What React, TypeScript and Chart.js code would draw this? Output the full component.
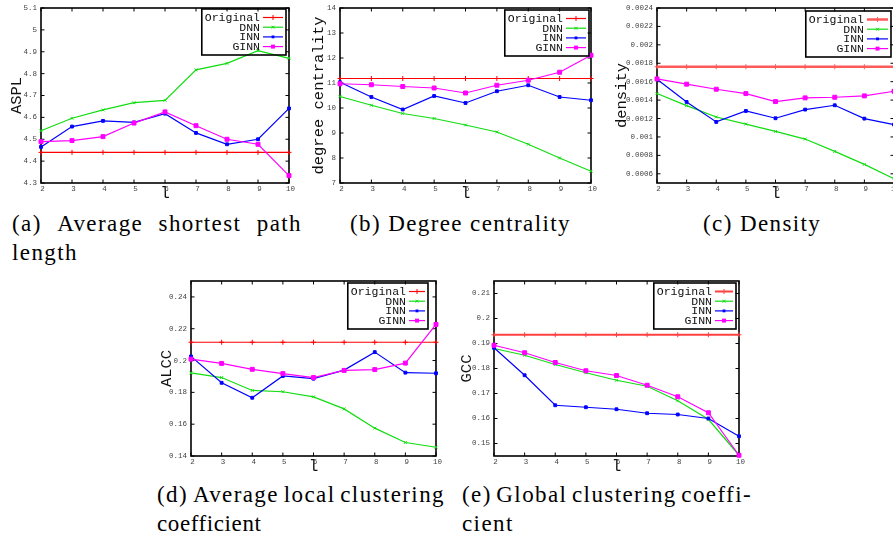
import React, { useEffect, useRef } from 'react';
import { Chart, registerables } from 'chart.js';

Chart.register(...registerables);

// ---------- data ----------
const L_VALUES = [2, 3, 4, 5, 6, 7, 8, 9, 10];
const SERIES_NAMES = ['Original', 'DNN', 'INN', 'GINN'];

// (a) Average shortest path length
const ASPL_ORIGINAL = [4.44, 4.44, 4.44, 4.44, 4.44, 4.44, 4.44, 4.44, 4.44];
const ASPL_DNN = [4.539, 4.596, 4.634, 4.667, 4.678, 4.817, 4.847, 4.905, 4.87];
const ASPL_INN = [4.465, 4.558, 4.584, 4.577, 4.617, 4.529, 4.477, 4.5, 4.641];
const ASPL_GINN = [4.489, 4.494, 4.512, 4.574, 4.625, 4.562, 4.5, 4.477, 4.334];
const ASPL_TICKS = [4.3, 4.4, 4.5, 4.6, 4.7, 4.8, 4.9, 5.0, 5.1];

// (b) Degree centrality
const DC_ORIGINAL = [11.18, 11.18, 11.18, 11.18, 11.18, 11.18, 11.18, 11.18, 11.18];
const DC_DNN = [10.46, 10.11, 9.78, 9.58, 9.32, 9.04, 8.55, 8.0, 7.47];
const DC_INN = [11.03, 10.44, 9.94, 10.48, 10.2, 10.67, 10.91, 10.44, 10.31];
const DC_GINN = [10.97, 10.93, 10.86, 10.8, 10.6, 10.91, 11.11, 11.43, 12.11];
const DC_TICKS = [7, 8, 9, 10, 11, 12, 13, 14];

// (c) Density
const DEN_ORIGINAL = [0.001762, 0.001762, 0.001762, 0.001762, 0.001762, 0.001762, 0.001762, 0.001762, 0.001762];
const DEN_DNN = [0.001471, 0.00134, 0.001217, 0.00114, 0.00106, 0.000977, 0.000843, 0.000702, 0.000546];
const DEN_INN = [0.001627, 0.00138, 0.001163, 0.001282, 0.001203, 0.001297, 0.001344, 0.001199, 0.001134];
const DEN_GINN = [0.00163, 0.001573, 0.001518, 0.001471, 0.001384, 0.001424, 0.001431, 0.001446, 0.001496];
const DEN_TICKS = [0.0006, 0.0008, 0.001, 0.0012, 0.0014, 0.0016, 0.0018, 0.002, 0.0022, 0.0024];

// (d) Average local clustering coefficient
const ALCC_ORIGINAL = [0.2115, 0.2115, 0.2115, 0.2115, 0.2115, 0.2115, 0.2115, 0.2115, 0.2115];
const ALCC_DNN = [0.1922, 0.1893, 0.1812, 0.1804, 0.1772, 0.1696, 0.1575, 0.1485, 0.1455];
const ALCC_INN = [0.2026, 0.186, 0.1766, 0.1903, 0.1886, 0.194, 0.2053, 0.1924, 0.192];
const ALCC_GINN = [0.2009, 0.1982, 0.1945, 0.1918, 0.1893, 0.1938, 0.1943, 0.1984, 0.2227];
const ALCC_TICKS = [0.14, 0.16, 0.18, 0.2, 0.22, 0.24];

// (e) Global clustering coefficient
const GCC_ORIGINAL = [0.1935, 0.1935, 0.1935, 0.1935, 0.1935, 0.1935, 0.1935, 0.1935, 0.1935];
const GCC_DNN = [0.188, 0.1853, 0.1816, 0.1783, 0.1753, 0.1729, 0.1671, 0.1597, 0.1453];
const GCC_INN = [0.1883, 0.1773, 0.1653, 0.1645, 0.1637, 0.1621, 0.1616, 0.16, 0.1529];
const GCC_GINN = [0.1893, 0.1863, 0.1824, 0.1791, 0.1772, 0.1733, 0.1687, 0.1623, 0.1453];
const GCC_TICKS = [0.15, 0.16, 0.17, 0.18, 0.19, 0.2, 0.21];

// ---------- styles ----------
const MONO = "'Liberation Mono', 'DejaVu Sans Mono', 'Noto Sans Mono', monospace";
const SERIF = "'Liberation Serif', 'DejaVu Serif', 'Noto Serif', serif";

const SERIES_STYLE = [
  { color: '#ff0000', point: 'cross', r: 2.5 },
  { color: '#11dd11', point: 'crossRot', r: 2 },
  { color: '#0000ff', point: 'rect', r: 2 },
  { color: '#ff00ff', point: 'rect', r: 2.8 },
];

const PANELS = [
  { left: 0, top: 0, w: 300, h: 205, plot: { L: 41, R: 289, T: 8, B: 183 }, yTitle: 'ASPL', yTitleX: 16.5,
    ymin: 4.3, ymax: 5.1, yTicks: ASPL_TICKS, series: [ASPL_ORIGINAL, ASPL_DNN, ASPL_INN, ASPL_GINN],
    legend: { inset: 3, top: 1, sample: 19 }, red: { w: 1.2, c: '#ff0000' } },
  { left: 300, top: 0, w: 300, h: 205, plot: { L: 340, R: 591, T: 8, B: 183 }, yTitle: 'degree centrality', yTitleX: 319,
    ymin: 7, ymax: 14, yTicks: DC_TICKS, series: [DC_ORIGINAL, DC_DNN, DC_INN, DC_GINN],
    legend: { inset: 2, top: 2, sample: 19 }, red: { w: 1.2, c: '#ff0000' } },
  { left: 600, top: 0, w: 300, h: 205, plot: { L: 657, R: 894, T: 8, B: 183 }, yTitle: 'density', yTitleX: 622,
    ymin: 0.0005, ymax: 0.0024, yTicks: DEN_TICKS, series: [DEN_ORIGINAL, DEN_DNN, DEN_INN, DEN_GINN],
    legend: { inset: 3, top: 3, sample: 20 }, red: { w: 2.5, c: '#ff5a5a' } },
  { left: 150, top: 275, w: 300, h: 203, plot: { L: 191, R: 436, T: 281, B: 456 }, yTitle: 'ALCC', yTitleX: 167,
    ymin: 0.14, ymax: 0.25, yTicks: ALCC_TICKS, series: [ALCC_ORIGINAL, ALCC_DNN, ALCC_INN, ALCC_GINN],
    legend: { inset: 8, top: 2, sample: 15 }, red: { w: 1.2, c: '#ff0000' } },
  { left: 450, top: 275, w: 300, h: 203, plot: { L: 494, R: 739, T: 281, B: 456 }, yTitle: 'GCC', yTitleX: 467,
    ymin: 0.145, ymax: 0.215, yTicks: GCC_TICKS, series: [GCC_ORIGINAL, GCC_DNN, GCC_INN, GCC_GINN],
    legend: { inset: 3, top: 2, sample: 17 }, red: { w: 2, c: '#ff4040' } },
];

const fmt = (v: any) => String(+Number(v).toFixed(6));

function drawMarker(ctx: CanvasRenderingContext2D, style: string, x: number, y: number, r: number, color: string) {
  ctx.save();
  ctx.strokeStyle = color;
  ctx.fillStyle = color;
  ctx.lineWidth = 1;
  ctx.beginPath();
  if (style === 'cross') {
    ctx.moveTo(x - r, y); ctx.lineTo(x + r, y);
    ctx.moveTo(x, y - r); ctx.lineTo(x, y + r);
    ctx.stroke();
  } else if (style === 'crossRot') {
    const d = r * Math.SQRT1_2;
    ctx.moveTo(x - d, y - d); ctx.lineTo(x + d, y + d);
    ctx.moveTo(x - d, y + d); ctx.lineTo(x + d, y - d);
    ctx.stroke();
  } else {
    const s = r * Math.SQRT1_2;
    ctx.fillRect(x - s, y - s, 2 * s, 2 * s);
  }
  ctx.restore();
}

const framePlugin = {
  id: 'gpFrame',
  beforeDatasetsDraw(chart: any) {
    const { ctx, chartArea, scales } = chart;
    const { left, right, top, bottom } = chartArea;
    const tl = 3.5;
    ctx.save();
    ctx.strokeStyle = '#000';
    ctx.lineWidth = 1;
    ctx.beginPath();
    scales.x.ticks.forEach((t: any) => {
      const px = scales.x.getPixelForValue(t.value);
      ctx.moveTo(px, bottom); ctx.lineTo(px, bottom - tl);
      ctx.moveTo(px, top); ctx.lineTo(px, top + tl);
    });
    scales.y.ticks.forEach((t: any) => {
      const py = scales.y.getPixelForValue(t.value);
      ctx.moveTo(left, py); ctx.lineTo(left + tl, py);
      ctx.moveTo(right, py); ctx.lineTo(right - tl, py);
    });
    ctx.stroke();
    ctx.lineWidth = 1.6;
    ctx.strokeRect(left, top, right - left, bottom - top);
    ctx.restore();
  },
};

const legendPlugin = {
  id: 'gpLegend',
  afterDatasetsDraw(chart: any, _args: any, opts: any) {
    const { ctx, chartArea } = chart;
    const ds = chart.data.datasets;
    ctx.save();
    ctx.font = `11.5px ${MONO}`;
    const textW = Math.max(...ds.map((d: any) => ctx.measureText(d.label).width));
    const boxR = chartArea.right - opts.inset;
    const boxT = chartArea.top + opts.top;
    const textR = boxR - opts.sample - 7;
    const boxL = textR - textW - 3;
    const rowH = 9.7;
    const boxH = 46;
    ctx.strokeStyle = '#000';
    ctx.lineWidth = 1.6;
    ctx.strokeRect(boxL, boxT, boxR - boxL, boxH);
    ds.forEach((d: any, i: number) => {
      const y = boxT + 8.5 + i * rowH;
      ctx.fillStyle = '#111';
      ctx.textAlign = 'right';
      ctx.textBaseline = 'middle';
      ctx.fillText(d.label, textR, y + 0.5);
      const x0 = textR + 3;
      const x1 = boxR - 3;
      ctx.strokeStyle = d.borderColor;
      ctx.lineWidth = d.borderWidth;
      ctx.beginPath();
      ctx.moveTo(x0, y); ctx.lineTo(x1, y);
      ctx.stroke();
      drawMarker(ctx, d.pointStyle, (x0 + x1) / 2, y, d.pointRadius, d.borderColor);
    });
    ctx.restore();
  },
};

function buildConfig(p: any): any {
  const yAxisW = p.plot.L - p.left;
  const xAxisH = p.top + p.h - p.plot.B;
  const datasets = SERIES_NAMES.map((name, i) => {
    const st = SERIES_STYLE[i];
    const color = i === 0 ? p.red.c : st.color;
    return {
      label: name,
      data: L_VALUES.map((x, j) => ({ x, y: p.series[i][j] })),
      borderColor: color,
      backgroundColor: color,
      borderWidth: i === 0 ? p.red.w : 1.2,
      pointStyle: st.point,
      pointRadius: st.r,
      pointBorderWidth: 1,
      pointBackgroundColor: color,
      pointBorderColor: color,
      tension: 0,
      clip: false,
      order: 3 - i,
    };
  });
  return {
    type: 'line',
    data: { datasets },
    plugins: [framePlugin, legendPlugin],
    options: {
      responsive: false,
      animation: false,
      devicePixelRatio: 1,
      layout: {
        padding: { left: 0, top: p.plot.T - p.top, right: p.left + p.w - p.plot.R, bottom: 0 },
      },
      plugins: {
        legend: { display: false },
        tooltip: { enabled: false },
        gpLegend: p.legend,
      },
      scales: {
        x: {
          type: 'linear',
          position: 'bottom',
          min: 2,
          max: 10,
          grid: { display: false, drawTicks: false },
          border: { display: false },
          afterBuildTicks: (s: any) => { s.ticks = L_VALUES.map((v) => ({ value: v })); },
          afterFit: (s: any) => { s.height = xAxisH; s.paddingLeft = 0; s.paddingRight = 0; },
          ticks: {
            autoSkip: false, maxRotation: 0, padding: 2, labelOffset: 1.5,
            font: { family: MONO, size: 7.5 }, color: '#444',
            callback: fmt,
          },
          title: {
            display: true, text: 'l', color: '#111',
            font: { family: MONO, size: 16, lineHeight: 1 },
            padding: { top: 0, bottom: 3.5 },
          },
        },
        y: {
          type: 'linear',
          position: 'left',
          min: p.ymin,
          max: p.ymax,
          grid: { display: false, drawTicks: false },
          border: { display: false },
          afterBuildTicks: (s: any) => { s.ticks = p.yTicks.map((v: number) => ({ value: v })); },
          afterFit: (s: any) => { s.width = yAxisW; s.paddingTop = 0; s.paddingBottom = 0; },
          ticks: {
            autoSkip: false, padding: 4,
            font: { family: MONO, size: 7.5 }, color: '#444',
            callback: fmt,
          },
          title: {
            display: true, text: p.yTitle, color: '#111',
            font: { family: MONO, size: 15.5, lineHeight: 1 },
            padding: { top: p.yTitleX - p.left - 7.75, bottom: 0 },
          },
        },
      },
    },
  };
}

function Panel({ p }: { p: any }) {
  const ref = useRef<HTMLCanvasElement>(null);
  useEffect(() => {
    const chart = new Chart(ref.current as HTMLCanvasElement, buildConfig(p));
    return () => chart.destroy();
  }, [p]);
  return (
    <canvas
      ref={ref}
      width={p.w}
      height={p.h}
      style={{ position: 'absolute', left: p.left, top: p.top, width: p.w, height: p.h }}
    />
  );
}

const capBase: React.CSSProperties = {
  position: 'absolute',
  fontFamily: SERIF,
  fontSize: 23,
  lineHeight: '29px',
  letterSpacing: '1.4px',
  color: '#000',
  whiteSpace: 'nowrap',
};

function JustLine({ text, left, top, width }: { text: string; left: number; top: number; width: number }) {
  return (
    <div style={{ ...capBase, left, top, width, display: 'flex', justifyContent: 'space-between' }}>
      {text.split(' ').map((w, i) => <span key={i}>{w}</span>)}
    </div>
  );
}

export default function App() {
  return (
    <div style={{ position: 'fixed', left: 0, top: 0, width: 893, height: 541, overflow: 'hidden', background: '#fff' }}>
      {PANELS.map((p, i) => <Panel key={i} p={p} />)}
      <JustLine text="(a) Average shortest path" left={12} top={209} width={290} />
      <div style={{ ...capBase, left: 12, top: 238 }}>length</div>
      <div style={{ ...capBase, left: 350, top: 209 }}>(b) Degree centrality</div>
      <div style={{ ...capBase, left: 703, top: 209 }}>(c) Density</div>
      <JustLine text="(d) Average local clustering" left={157} top={480} width={288} />
      <div style={{ ...capBase, left: 157, top: 509, letterSpacing: '0.6px' }}>coefficient</div>
      <JustLine text="(e) Global clustering coeffi-" left={462} top={480} width={290} />
      <div style={{ ...capBase, left: 462, top: 509 }}>cient</div>
    </div>
  );
}
